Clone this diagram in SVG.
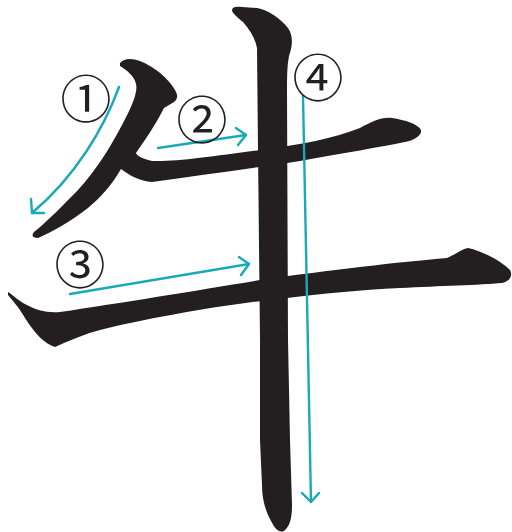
<svg xmlns="http://www.w3.org/2000/svg" width="512" height="532" viewBox="0 0 512 532">
<style>
.ink{fill:#231f20;stroke:none}
.arr{fill:none;stroke:#1aaab6;stroke-width:2.4;stroke-linecap:round;stroke-linejoin:round}
.num{font-family:"Noto Sans CJK JP","DejaVu Sans",sans-serif;font-size:51px;font-weight:400;fill:#231f20;text-anchor:middle;dominant-baseline:central}
</style>
<rect width="512" height="532" fill="#ffffff"/>
<g id="strokes">
<path class="ink" d="M120,63 C124,58 132,58 140,61 C155,67 168,78 175,90 C178,95 178,99 174,102 L164,108 C158,120 150,133 136,153 C137,156 141,158 152,161 C175,162 215,156 260,150 C300,145 335,138 360,128 C372,122 380,117 392,118 C405,120 418,124 421,130 C422,135 415,140 405,142 C380,147 345,153 300,161 C255,168 200,175 152,182 C140,181 130,176 121,169 C112,185 100,198 88,208 C70,222 52,232 38,238 C33,238 31,236 34,232 C48,221 62,206 78,190 C96,170 110,148 122,125 C132,106 138,92 136,84 C134,75 126,70 120,66 Z"/>
<path class="ink" d="M8,292 C14,296 20,302 27,305 C36,310 46,313 60,312 C120,303 200,290 260,280 C330,270 400,262 447,258 C456,254 462,249 468,248 C482,251 500,260 510,270 C513,276 510,281 502,283 C480,285 440,286 400,288 C360,290 320,294 287,298 C220,305 150,318 100,330 C85,334 70,340 55,347 C45,344 35,334 25,318 C18,306 12,300 8,295 Z"/>
<path class="ink" d="M232,10 C232,7 236,6 242,7 L257,8 C268,10 280,18 288,28 C293,35 293,45 289,56 C287,66 287,78 287,90 L288,340 L290,440 L292,505 C292,518 290,526 284,531 C279,533 275,529 271,521 C266,512 262,500 262,485 L260,440 L260,340 L258,150 L257,48 C255,38 250,30 243,22 C237,17 232,13 232,10 Z"/>
</g>
<g id="connectors">
<path class="arr" d="M119,87 C104,128 76,176 32,213"/>
<path class="arr" d="M31,199 L32,213 L44,213"/>
<path class="arr" d="M158,148 L246,135"/>
<path class="arr" d="M236,128 L246,135 L238,145"/>
<path class="arr" d="M70,294 L249,264"/>
<path class="arr" d="M239,257 L249,264 L241,275"/>
<path class="arr" d="M303,96 L311,502"/>
<path class="arr" d="M302,493 L311,502 L319,493"/>
</g>
<g id="labels">
<text class="num" x="86" y="96">①</text>
<text class="num" x="202" y="117">②</text>
<text class="num" x="80" y="262">③</text>
<text class="num" x="318" y="75">④</text>
</g>
</svg>
